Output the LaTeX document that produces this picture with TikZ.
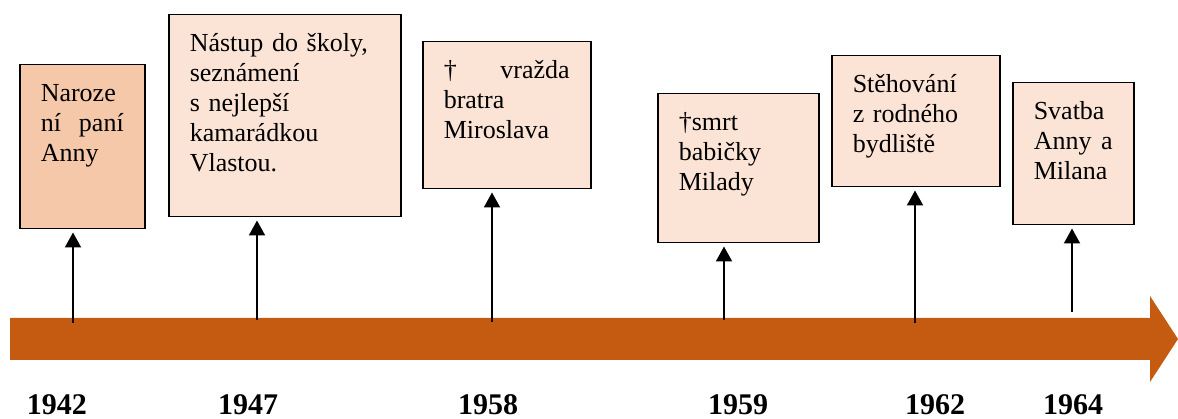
\documentclass[tikz,border=0pt]{standalone}
\usepackage{fontspec}
\setmainfont{Liberation Serif}
\usepackage{tikz}
\usetikzlibrary{arrows.meta}
\definecolor{peach}{HTML}{FBE3D6}
\definecolor{darkpeach}{HTML}{F5C8AA}
\definecolor{barorange}{HTML}{C55A11}
\newcommand\T{37}

\begin{document}
\begin{tikzpicture}[x=1pt,y=-1pt,>={Triangle[width=16pt,length=15pt]},
                    line width=2pt]

  \tikzstyle{event}=[draw,line width=1.5pt,fill=peach,anchor=north west,
                     align=left,inner xsep=21pt,inner ysep=0pt,text height=\T pt,
                     font=\fontsize{26}{30}\selectfont]
  \tikzstyle{year}=[anchor=base,font=\fontsize{30}{30}\selectfont\bfseries]
  \tikzstyle{pointer}=[->,shorten >=3pt]

  \useasboundingbox (0,0) rectangle (1178,419);

  % the time bar
  \fill[barorange] (10,318) -- (1150,318) -- (1150,296) -- (1178,339)
                   -- (1150,382) -- (1150,360) -- (10,360) -- cycle;

  \coordinate (t1) at (73,323);
  \coordinate (t2) at (257,320);
  \coordinate (t3) at (492,322);
  \coordinate (t4) at (724,320);
  \coordinate (t5) at (915,323);
  \coordinate (t6) at (1072,312);

  \node[event,fill=darkpeach,text width=83pt,text depth=127pt] (e1) at (19,64)
       {Naroze\\ ní\hfill paní\\ Anny};
  \node[event,text width=190pt,text depth=165pt] (e2) at (168,14)
       {Nástup do školy,\\ seznámení\\ s nejlepší\\ kamarádkou\\ Vlastou.};
  \node[event,text width=126pt,text depth=110pt] (e3) at (422,41)
       {†\hfill vražda\\ bratra\\ Miroslava};
  \node[event,text width=119pt,text depth=112pt] (e4) at (657,93)
       {†smrt\\ babičky\\ Milady};
  \node[event,text width=126pt,text depth=94pt] (e5) at (831,55)
       {Stěhování\\ z rodného\\ bydliště};
  \node[event,text width=79pt,text depth=105pt] (e6) at (1012,82)
       {Svatba\\ Anny\hfill a\\ Milana};

  \node[year] (y1) at (57,414)   {1942};
  \node[year] (y2) at (248,414)  {1947};
  \node[year] (y3) at (488,414)  {1958};
  \node[year] (y4) at (738,414)  {1959};
  \node[year] (y5) at (935,414)  {1962};
  \node[year] (y6) at (1073,414) {1964};

  \draw[pointer] (t1) -- (t1 |- e1.south);
  \draw[pointer] (t2) -- (t2 |- e2.south);
  \draw[pointer] (t3) -- (t3 |- e3.south);
  \draw[pointer] (t4) -- (t4 |- e4.south);
  \draw[pointer] (t5) -- (t5 |- e5.south);
  \draw[pointer] (t6) -- (t6 |- e6.south);
\end{tikzpicture}
\end{document}
